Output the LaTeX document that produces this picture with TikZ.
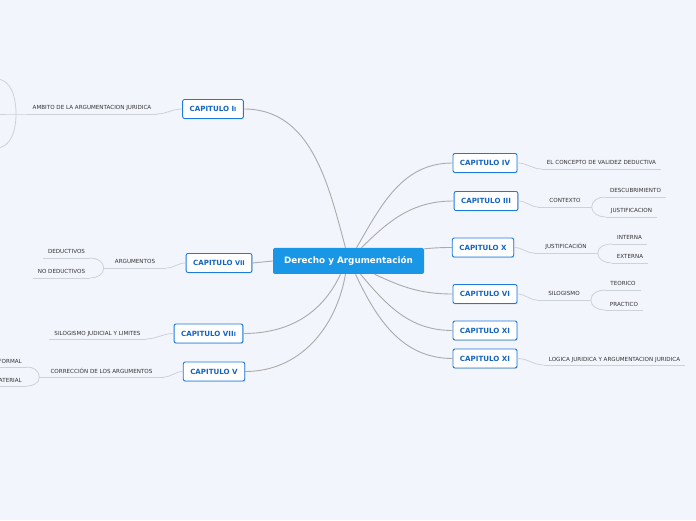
\documentclass[tikz,border=0pt]{standalone}
\usepackage{fontspec}
\setmainfont{DejaVu Sans}
\usetikzlibrary{shadows}

\definecolor{fondo}{HTML}{F3F5FD}
\definecolor{azulcentro}{HTML}{1A96E6}
\definecolor{azulborde}{HTML}{1C7ADB}
\definecolor{azultexto}{HTML}{1565C0}
\definecolor{grisrama}{HTML}{ABABAB}
\definecolor{grislinea}{HTML}{CDD1D8}
\definecolor{textotema}{HTML}{333333}

\begin{document}
\begin{tikzpicture}[
  x=1pt, y=1pt,
  central/.style={rectangle, rounded corners=2pt, fill=azulcentro, text=white,
    font=\fontsize{8.8}{10}\selectfont\bfseries, minimum width=151pt, minimum height=26pt},
  capitulo/.style={rectangle, rounded corners=2pt, draw=azulborde, line width=0.9pt,
    fill=white, text=azultexto, font=\fontsize{7.1}{8}\selectfont\bfseries,
    minimum height=19pt, inner xsep=7pt,
    drop shadow={shadow xshift=0.6pt, shadow yshift=-0.9pt, opacity=0.25}},
  tema/.style={anchor=south, text=textotema, font=\fontsize{5.6}{6.5}\selectfont,
    text height=4pt, text depth=0pt, inner ysep=3.8pt, inner xsep=5pt},
  ramificado/.style={inner xsep=11pt},
  conector/.style={draw=grisrama, line width=0.9pt},
  subrayado/.style={draw=grislinea, line width=0.8pt}
]
\fill[fondo] (0,0) rectangle (696,520);
\useasboundingbox (0,0) rectangle (696,520);
\clip (0,0) rectangle (696,520);

% tema central y capitulos
\node[central] (ctr) at (348.5,259) {Derecho y Argumentación};

\node[capitulo] (cI)    at (213,411)   {CAPITULO I{\fontsize{5.8}{6}\selectfont I}};
\node[capitulo] (cVII)  at (219,257)   {CAPITULO {\fontsize{6.5}{7}\selectfont VII}};
\node[capitulo] (cVIII) at (208.5,186.5) {CAPITULO VII{\fontsize{5.8}{6}\selectfont I}};
\node[capitulo] (cV)    at (214,148.5) {CAPITULO V};
\node[capitulo] (cIV)   at (485,357)   {CAPITULO IV};
\node[capitulo] (cIII)  at (486,319)   {CAPITULO III};
\node[capitulo] (cX)    at (483,272.5) {CAPITULO X};
\node[capitulo] (cVI)   at (485,226)   {CAPITULO VI};
\node[capitulo] (cXIa)  at (485,189.5) {CAPITULO XI};
\node[capitulo] (cXIb)  at (485,161.5) {CAPITULO XI};

\draw[conector] ([xshift=-3pt]ctr.north) to[out=105,in=0] (cI.east);
\draw[conector] (ctr.west) -- (cVII.east);
\draw[conector] ([xshift=-8pt]ctr.south) to[out=-115,in=0] (cVIII.east);
\draw[conector] ([xshift=-3pt]ctr.south) to[out=-100,in=0] (cV.east);
\draw[conector] ([xshift=8pt]ctr.north) to[out=60,in=180] (cIV.west);
\draw[conector] ([xshift=13pt]ctr.north) to[out=45,in=180] (cIII.west);
\draw[conector] ([yshift=-1pt]ctr.north east) to[out=5,in=180] (cX.west);
\draw[conector] ([xshift=26pt]ctr.south) to[out=-25,in=180] (cVI.west);
\draw[conector] ([xshift=12pt]ctr.south) to[out=-50,in=180] (cXIa.west);
\draw[conector] ([xshift=7pt]ctr.south) to[out=-65,in=180] (cXIb.west);

% subtemas lado derecho
\node[tema] (tIV)  at (601.5,351) {EL CONCEPTO DE VALIDEZ DEDUCTIVA};
\node[tema, ramificado] (tIII) at (565,313) {CONTEXTO};
\node[tema] (tIIIa) at (635.5,323) {DESCUBRIMIENTO};
\node[tema] (tIIIb) at (631.5,303) {JUSTIFICACION};
\node[tema, ramificado] (tX) at (566,267) {JUSTIFICACIÓN};
\node[tema] (tXa)  at (629.5,276) {INTERNA};
\node[tema] (tXb)  at (630,257)   {EXTERNA};
\node[tema, ramificado] (tVI) at (564,220) {SILOGISMO};
\node[tema] (tVIa) at (623,230)   {TEORICO};
\node[tema] (tVIb) at (624,210)   {PRACTICO};
\node[tema] (tXIb) at (614.5,155) {LOGICA JURIDICA Y ARGUMENTACION JURIDICA};

\foreach \t in {tIV,tIII,tIIIa,tIIIb,tX,tXa,tXb,tVI,tVIa,tVIb,tXIb}
  \draw[subrayado] (\t.south west) -- (\t.south east);

\draw[subrayado] (cIV.east) to[out=0,in=180] (tIV.south west);
\draw[subrayado] (cIII.east) to[out=0,in=180] (tIII.south west);
\draw[subrayado] (cX.east) to[out=0,in=180] (tX.south west);
\draw[subrayado] (cVI.east) to[out=0,in=180] (tVI.south west);
\draw[subrayado] (cXIb.east) to[out=0,in=180] (tXIb.south west);

\draw[subrayado] (tIII.south east) to[out=90,in=180] (tIIIa.south west);
\draw[subrayado] (tIII.south east) to[out=-90,in=180] (tIIIb.south west);
\draw[subrayado] (tX.south east) to[out=90,in=180] (tXa.south west);
\draw[subrayado] (tX.south east) to[out=-90,in=180] (tXb.south west);
\draw[subrayado] (tVI.south east) to[out=90,in=180] (tVIa.south west);
\draw[subrayado] (tVI.south east) to[out=-90,in=180] (tVIb.south west);

% subtemas lado izquierdo
\node[tema] (tI)    at (92,406)    {AMBITO DE LA ARGUMENTACION JURIDICA};
\node[tema, ramificado] (tVII) at (135,252) {ARGUMENTOS};
\node[tema] (tVIIa) at (66.5,262)  {DEDUCTIVOS};
\node[tema] (tVIIb) at (61.5,242)  {NO DEDUCTIVOS};
\node[tema] (tVIII) at (97.5,181)  {SILOGISMO JUDICIAL Y LIMITES};
\node[tema, ramificado] (tV) at (101.5,143) {CORRECCIÓN DE LOS ARGUMENTOS};
\node[tema, anchor=south east] (tVa) at (27,153) {FORMAL};
\node[tema, anchor=south east] (tVb) at (27,134) {MATERIAL};

\foreach \t in {tI,tVII,tVIIa,tVIIb,tVIII,tV,tVa,tVb}
  \draw[subrayado] (\t.south west) -- (\t.south east);

\draw[subrayado] (cI.west) to[out=180,in=0] (tI.south east);
\draw[subrayado] (cVII.west) to[out=180,in=0] (tVII.south east);
\draw[subrayado] (cVIII.west) to[out=180,in=0] (tVIII.south east);
\draw[subrayado] (cV.west) to[out=180,in=0] (tV.south east);

\draw[subrayado] (tVII.south west) to[out=90,in=0] (tVIIa.south east);
\draw[subrayado] (tVII.south west) to[out=-90,in=0] (tVIIb.south east);
\draw[subrayado] (tV.south west) to[out=90,in=0] (tVa.south east);
\draw[subrayado] (tV.south west) to[out=-90,in=0] (tVb.south east);

% ramas de AMBITO que salen del borde
\coordinate (jI) at (16,406);
\coordinate (aI1) at (-4,441);
\coordinate (aI2) at (-4,406);
\coordinate (aI3) at (-4,372);
\draw[subrayado] (tI.south west) -- (jI) -- (aI2);
\draw[subrayado] (jI) to[out=90,in=0] (aI1);
\draw[subrayado] (jI) to[out=-90,in=0] (aI3);
\end{tikzpicture}
\end{document}
